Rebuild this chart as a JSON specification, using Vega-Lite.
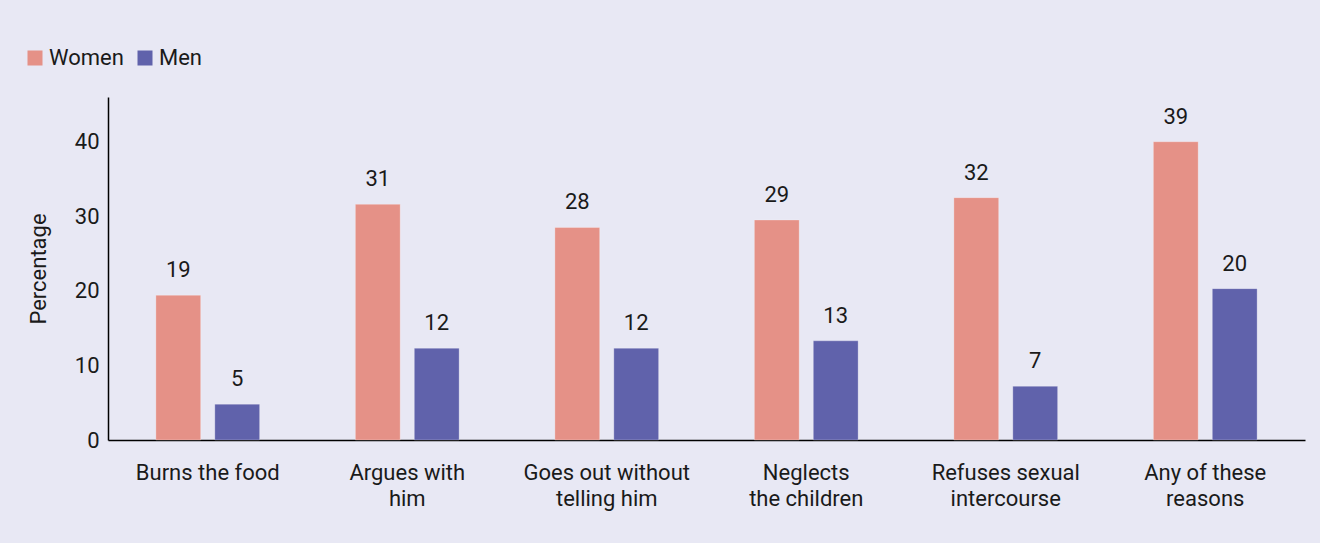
{
  "$schema": "https://vega.github.io/schema/vega-lite/v6.json",
  "autosize": {"type": "none"},
  "width": 1197,
  "height": 343,
  "padding": {"left": 108, "top": 97, "right": 15, "bottom": 103},
  "background": "#e8e8f4",
  "config": {
    "view": {"stroke": null},
    "font": "Roboto",
    "axis": {"labelFont": "Roboto", "titleFont": "Roboto", "labelColor": "#1a1a1a", "titleColor": "#1a1a1a", "domainColor": "#000000", "domainWidth": 1.5, "ticks": false, "grid": false},
    "legend": {"labelFont": "Roboto", "labelColor": "#1a1a1a"}
  },
  "data": {
    "values": [
      {"reason": "Burns the food", "sex": "Women", "value": 19.4, "label": "19"},
      {"reason": "Burns the food", "sex": "Men", "value": 4.8, "label": "5"},
      {"reason": "Argues with|him", "sex": "Women", "value": 31.6, "label": "31"},
      {"reason": "Argues with|him", "sex": "Men", "value": 12.3, "label": "12"},
      {"reason": "Goes out without|telling him", "sex": "Women", "value": 28.5, "label": "28"},
      {"reason": "Goes out without|telling him", "sex": "Men", "value": 12.3, "label": "12"},
      {"reason": "Neglects|the children", "sex": "Women", "value": 29.5, "label": "29"},
      {"reason": "Neglects|the children", "sex": "Men", "value": 13.3, "label": "13"},
      {"reason": "Refuses sexual|intercourse", "sex": "Women", "value": 32.5, "label": "32"},
      {"reason": "Refuses sexual|intercourse", "sex": "Men", "value": 7.2, "label": "7"},
      {"reason": "Any of these|reasons", "sex": "Women", "value": 40.0, "label": "39"},
      {"reason": "Any of these|reasons", "sex": "Men", "value": 20.3, "label": "20"}
    ]
  },
  "encoding": {
    "x": {
      "field": "reason", "type": "nominal", "sort": null,
      "scale": {"paddingInner": 0.48, "paddingOuter": 0.24},
      "axis": {"title": null, "labelAngle": 0, "labelFontSize": 22, "labelPadding": 22, "labelLineHeight": 26, "labelExpr": "split(datum.label, '|')", "labelBaseline": "top"}
    },
    "xOffset": {"field": "sex", "type": "nominal", "sort": ["Women", "Men"], "scale": {"paddingInner": 0.24}},
    "y": {
      "field": "value", "type": "quantitative",
      "scale": {"domain": [0, 46], "nice": false},
      "axis": {"title": "Percentage", "values": [0, 10, 20, 30, 40], "labelFontSize": 22, "labelPadding": 9, "titleFontSize": 22, "titleFontWeight": "normal", "titlePadding": 24}
    }
  },
  "layer": [
    {
      "mark": {"type": "bar", "stroke": "#ffffff", "strokeOpacity": 0.25, "strokeWidth": 1},
      "encoding": {
        "color": {
          "field": "sex", "type": "nominal",
          "scale": {"domain": ["Women", "Men"], "range": ["#e59187", "#6062ab"]},
          "legend": {"title": null, "orient": "none", "legendX": -84, "legendY": -50, "direction": "horizontal", "symbolType": "square", "symbolSize": 225, "symbolOpacity": 1, "labelFontSize": 22, "labelOffset": 3, "columnPadding": 10, "padding": 0, "symbolStrokeWidth": 0}
        }
      }
    },
    {
      "mark": {"type": "text", "baseline": "bottom", "dy": -13, "fontSize": 22, "color": "#1a1a1a"},
      "encoding": {"text": {"field": "label"}}
    }
  ]
}
